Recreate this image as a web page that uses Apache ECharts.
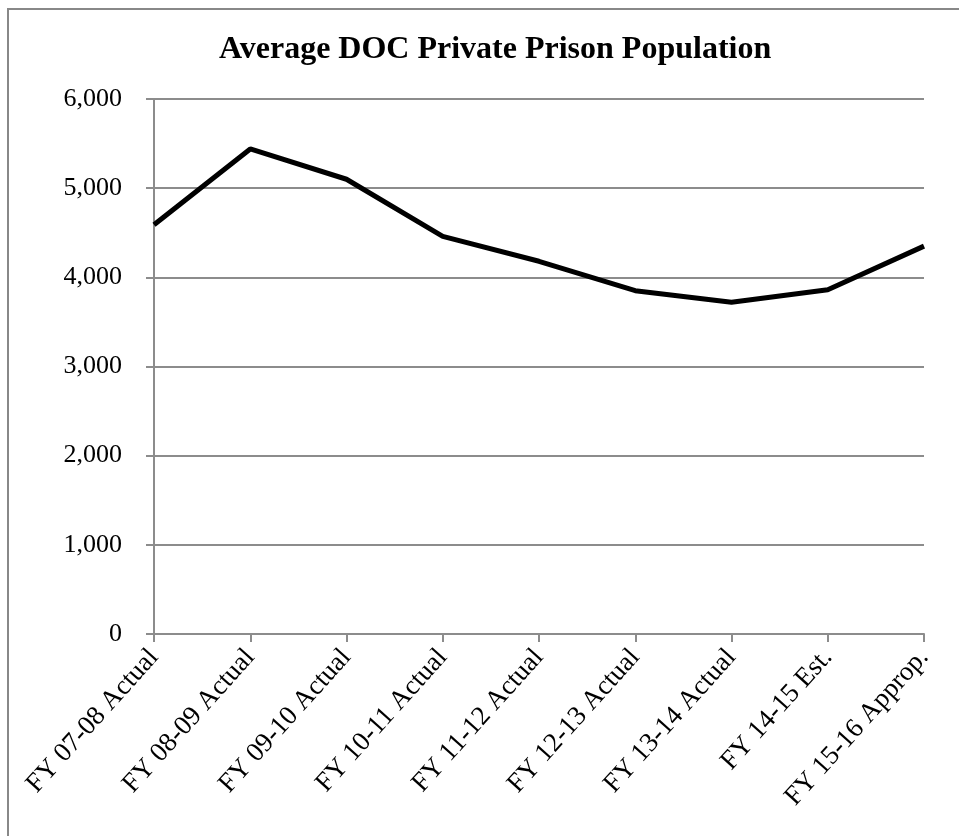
<!DOCTYPE html>
<html>
<head>
<meta charset="utf-8">
<title>Average DOC Private Prison Population</title>
<script src="https://cdn.jsdelivr.net/npm/echarts@6/dist/echarts.min.js"></script>
<style>
  html, body { margin: 0; padding: 0; background: #fff; }
  #chart { width: 959px; height: 836px; }
</style>
</head>
<body>
<div id="chart"></div>
<script>
// Fiscal years shown along the x axis
const fiscalYears = [
  'FY 07-08 Actual', 'FY 08-09 Actual', 'FY 09-10 Actual', 'FY 10-11 Actual',
  'FY 11-12 Actual', 'FY 12-13 Actual', 'FY 13-14 Actual', 'FY 14-15 Est.',
  'FY 15-16 Approp.'
];
// Average daily population housed in private prisons
const avgPopulation = [4590, 5440, 5100, 4460, 4180, 3850, 3720, 3860, 4350];
// Value axis range
const yMin = 0, yMax = 6000, yStep = 1000;

const serif = '"Liberation Serif", "DejaVu Serif", serif';
const grayLine = '#8c8c8c';

const chart = echarts.init(document.getElementById('chart'), null, { renderer: 'canvas' });
chart.setOption({
  backgroundColor: '#fff',
  animation: false,
  title: {
    text: 'Average DOC Private Prison Population',
    left: 214,
    top: 29,
    textStyle: { fontFamily: serif, fontWeight: 'bold', fontSize: 32, color: '#000' }
  },
  graphic: [{
    type: 'rect',
    shape: { x: 8, y: 9, width: 1200, height: 1200 },
    style: { fill: 'none', stroke: '#888', lineWidth: 2 },
    silent: true
  }],
  grid: { left: 154, right: 35, top: 99, bottom: 202, containLabel: false },
  xAxis: {
    type: 'category',
    data: fiscalYears,
    boundaryGap: false,
    axisLine: { lineStyle: { color: grayLine, width: 2 } },
    axisTick: { show: true, length: 8, lineStyle: { color: grayLine, width: 2 } },
    axisLabel: {
      rotate: 48,
      margin: 19,
      interval: 0,
      fontFamily: serif,
      fontSize: 27,
      color: '#000'
    },
    splitLine: { show: false }
  },
  yAxis: {
    type: 'value',
    min: yMin,
    max: yMax,
    interval: yStep,
    axisLine: { show: true, lineStyle: { color: grayLine, width: 2 } },
    axisTick: { show: true, length: 8, lineStyle: { color: grayLine, width: 2 } },
    axisLabel: {
      margin: 32,
      fontFamily: serif,
      fontSize: 26,
      color: '#000',
      formatter: v => v.toLocaleString('en-US')
    },
    splitLine: { show: true, lineStyle: { color: grayLine, width: 2 } }
  },
  series: [{
    type: 'line',
    data: avgPopulation,
    showSymbol: false,
    symbol: 'none',
    lineStyle: { color: '#000', width: 5 },
    z: 5
  }]
});
</script>
</body>
</html>
